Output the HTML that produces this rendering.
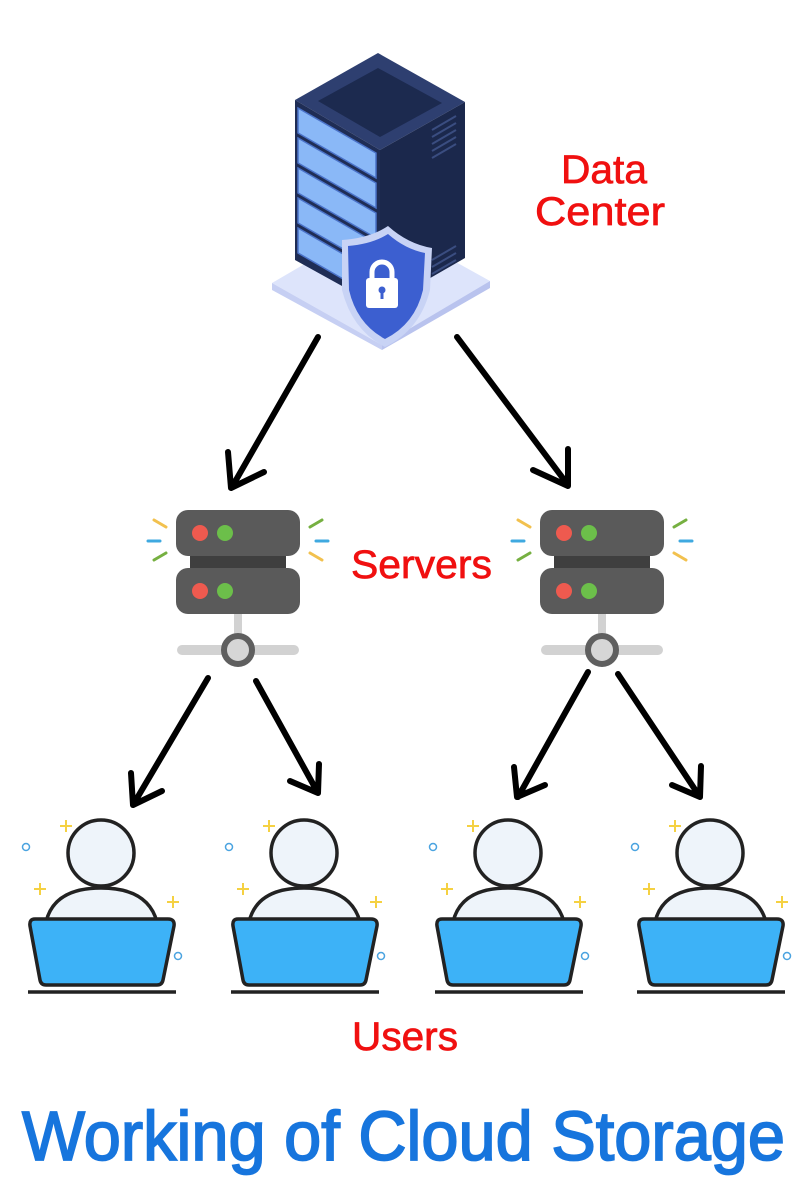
<!DOCTYPE html>
<html><head><meta charset="utf-8"><style>
html,body{margin:0;padding:0;background:#fff;}
svg{display:block;}
text{font-family:"Liberation Sans",sans-serif;}
</style></head><body>
<svg width="800" height="1200" viewBox="0 0 800 1200" xmlns="http://www.w3.org/2000/svg">
<defs>
<g id="srv">
  <line x1="-84" y1="-60" x2="-72" y2="-53" stroke="#f2c14e" stroke-width="3" stroke-linecap="round"/>
  <line x1="-90" y1="-39" x2="-78" y2="-39" stroke="#3fa9e0" stroke-width="3" stroke-linecap="round"/>
  <line x1="-84" y1="-20" x2="-72" y2="-27" stroke="#76b041" stroke-width="3" stroke-linecap="round"/>
  <line x1="72" y1="-53" x2="84" y2="-60" stroke="#76b041" stroke-width="3" stroke-linecap="round"/>
  <line x1="78" y1="-39" x2="90" y2="-39" stroke="#3fa9e0" stroke-width="3" stroke-linecap="round"/>
  <line x1="72" y1="-27" x2="84" y2="-20" stroke="#f2c14e" stroke-width="3" stroke-linecap="round"/>
  <rect x="-48" y="-40" width="96" height="30" fill="#3f3f3f"/>
  <rect x="-62" y="-70" width="124" height="46" rx="12" fill="#5a5a5a"/>
  <rect x="-62" y="-12" width="124" height="46" rx="12" fill="#5a5a5a"/>
  <circle cx="-38" cy="-47" r="8" fill="#ee5a4f"/>
  <circle cx="-13" cy="-47" r="8" fill="#6cbf4a"/>
  <circle cx="-38" cy="11" r="8" fill="#ee5a4f"/>
  <circle cx="-13" cy="11" r="8" fill="#6cbf4a"/>
  <line x1="0" y1="34" x2="0" y2="60" stroke="#d2d2d2" stroke-width="8"/>
  <line x1="-56" y1="70" x2="56" y2="70" stroke="#d2d2d2" stroke-width="10" stroke-linecap="round"/>
  <circle cx="0" cy="70" r="14" fill="#d6d6d6" stroke="#5f5f5f" stroke-width="6"/>
</g>
<g id="usr">
  <path d="M66,820v12M60,826h12" stroke="#f5d142" stroke-width="2"/>
  <path d="M40,883v12M34,889h12" stroke="#f5d142" stroke-width="2"/>
  <path d="M173,896v12M167,902h12" stroke="#f5d142" stroke-width="2"/>
  <circle cx="26" cy="847" r="3.5" fill="none" stroke="#4aa3e0" stroke-width="1.5"/>
  <circle cx="178" cy="956" r="3.5" fill="none" stroke="#4aa3e0" stroke-width="1.5"/>
  <path d="M46,922 Q54,888 101,888 Q148,888 157,922 Z" fill="#eef4fa" stroke="#222" stroke-width="3.5"/>
  <circle cx="101" cy="853" r="33" fill="#eef4fa" stroke="#222" stroke-width="3.5"/>
  <path d="M35,919 H168 Q175,919 174,926 L163,980 Q162,985 157,985 H46 Q41,985 40,980 L30,926 Q29,919 35,919 Z" fill="#3db2f7" stroke="#222" stroke-width="3.5"/>
  <line x1="28" y1="992" x2="176" y2="992" stroke="#222" stroke-width="3.5"/>
</g>
</defs>

<polygon points="272,283 380,220 490,281 382,345" fill="#dde4fb"/>
<polygon points="272,283 382,345 382,350 272,290" fill="#c6cff3"/>
<polygon points="382,345 490,281 490,288 382,350" fill="#b9c3ee"/>
<polygon points="378,53 465,102 380,150 295,100" fill="#2e3f70"/>
<polygon points="378,68 442,103 380,137 318,101" fill="#1c2a4f"/>
<polygon points="295,100 380,150 380,307 295,260" fill="#1f2d55"/>
<polygon points="380,150 465,102 465,258 380,307" fill="#1b284c"/>
<g fill="#8ab8f7" stroke="#4b73c9" stroke-width="1.5">
  <polygon points="298,108 376,153 376,178 298,133"/>
  <polygon points="298,138 376,183 376,208 298,163"/>
  <polygon points="298,168 376,213 376,238 298,193"/>
  <polygon points="298,198 376,243 376,268 298,223"/>
  <polygon points="298,228 376,273 376,298 298,253"/>
</g>
<g stroke="#3a4d80" stroke-width="2">
  <line x1="432" y1="130" x2="456" y2="116"/><line x1="432" y1="137" x2="456" y2="123"/>
  <line x1="432" y1="144" x2="456" y2="130"/><line x1="432" y1="151" x2="456" y2="137"/>
  <line x1="432" y1="158" x2="456" y2="144"/>
  <line x1="432" y1="260" x2="456" y2="246"/><line x1="432" y1="267" x2="456" y2="253"/>
  <line x1="432" y1="274" x2="456" y2="260"/>
</g>
<path d="M342,240 Q370,238 388,226 Q408,244 432,248 L430,290 Q420,330 385,347 Q352,330 342,290 Z" fill="#c8d3f5"/>
<path d="M348,246 Q372,244 388,234 Q405,249 425,253 L423,290 Q415,324 385,339 Q357,324 349,290 Z" fill="#3c5fd0"/>
<rect x="366" y="278" width="32" height="30" rx="3" fill="#fff"/>
<path d="M372,280 v-8 a10,10 0 0 1 20,0 v8" fill="none" stroke="#fff" stroke-width="5"/>
<circle cx="382" cy="290" r="3.5" fill="#3c5fd0"/>
<rect x="380.5" y="291" width="3" height="8" fill="#3c5fd0"/>

<g stroke="#000" stroke-width="6" stroke-linecap="round" stroke-linejoin="round" fill="none">
  <path d="M318,337 L232,487 M228,452 L231,488 L264,472"/>
  <path d="M457,337 L568,485 M568,449 L568,486 L533,470"/>
  <path d="M208,678 L133,805 M131,773 L133,805 L162,791"/>
  <path d="M256,681 L318,793 M319,764 L318,793 L290,781"/>
  <path d="M588,672 L518,797 M514,767 L517,797 L545,785"/>
  <path d="M618,674 L700,797 M701,766 L700,797 L672,785"/>
</g>

<use href="#srv" x="238" y="580"/>
<use href="#srv" x="602" y="580"/>

<use href="#usr" x="0" y="0"/>
<use href="#usr" x="203" y="0"/>
<use href="#usr" x="407" y="0"/>
<use href="#usr" x="609" y="0"/>

<g fill="#f01010" stroke="#f01010" stroke-width="0.7" font-size="40">
  <text x="561" y="183" textLength="86" lengthAdjust="spacingAndGlyphs">Data</text>
  <text x="535" y="225" textLength="130" lengthAdjust="spacingAndGlyphs">Center</text>
  <text x="351" y="578" textLength="141" lengthAdjust="spacingAndGlyphs">Servers</text>
  <text x="352" y="1050" textLength="106" lengthAdjust="spacingAndGlyphs">Users</text>
</g>
<text x="22" y="1160" font-size="70" fill="#1775dd" stroke="#1775dd" stroke-width="1.8" textLength="763" lengthAdjust="spacingAndGlyphs">Working of Cloud Storage</text>
</svg>
</body></html>
